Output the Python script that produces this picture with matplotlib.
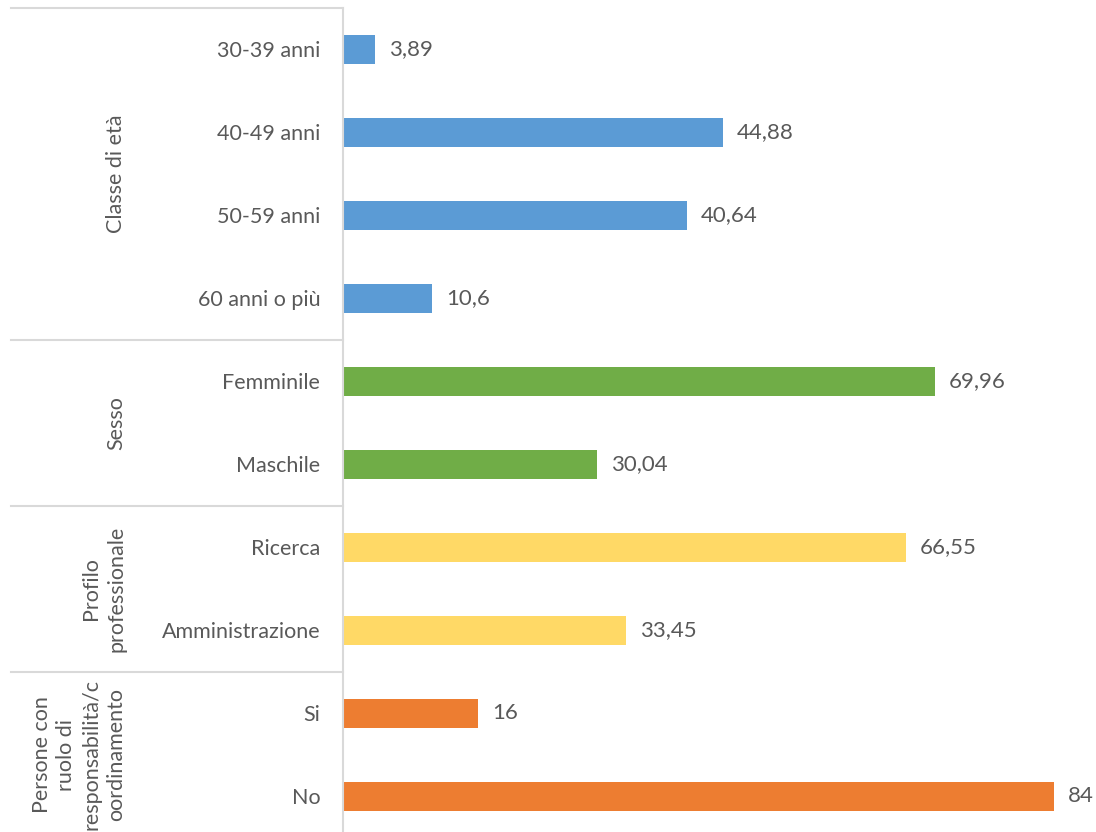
import matplotlib.pyplot as plt
import matplotlib.transforms as mtransforms

plt.rcParams['font.family'] = ['Lato', 'DejaVu Sans']

categories = ['30-39 anni', '40-49 anni', '50-59 anni', '60 anni o più',
              'Femminile', 'Maschile', 'Ricerca', 'Amministrazione', 'Si', 'No']
values = [3.89, 44.88, 40.64, 10.6, 69.96, 30.04, 66.55, 33.45, 16, 84]
labels = ['3,89', '44,88', '40,64', '10,6', '69,96', '30,04', '66,55', '33,45', '16', '84']
groups = ['Classe di età', 'Sesso', 'Profilo\nprofessionale',
          'Persone con\nruolo di\nresponsabilità/c\noordinamento']
group_sizes = [4, 2, 2, 2]
group_colors = ['#5B9BD5', '#70AD47', '#FFD966', '#ED7D31']

text_col = '#595959'
line_col = '#D9D9D9'

fig = plt.figure(figsize=(10.96, 8.32), dpi=100)
ax = fig.add_axes([342.5 / 1096, 1 - 837.5 / 832, 753.5 / 1096, 829.5 / 832])

colors = []
for c, n in zip(group_colors, group_sizes):
    colors += [c] * n

ypos = list(range(len(categories)))
ax.barh(ypos, values, height=0.35, color=colors)
ax.set_ylim(len(categories) - 0.5, -0.5)
ax.set_xlim(0, 753.5 / 8.47)

for y, v, lab in zip(ypos, values, labels):
    ax.annotate(lab, (v, y), xytext=(10, 0), textcoords='offset points',
                va='center', ha='left', fontsize=16, color=text_col)

ax.set_yticks(ypos)
ax.set_yticklabels(categories, fontsize=15.5, color=text_col)
ax.tick_params(axis='y', length=0, pad=16)
ax.set_xticks([])
for s in ['top', 'right', 'bottom']:
    ax.spines[s].set_visible(False)
ax.spines['left'].set_color(line_col)
ax.spines['left'].set_linewidth(1.5)

# group separators and labels
trans = mtransforms.blended_transform_factory(ax.transAxes, ax.transData)
x0 = (11 - 342.5) / 753.5
xlab = (126 - 342.5) / 753.5
start = -0.5
for g, n in zip(groups, group_sizes):
    ax.plot([x0, 0], [start, start], transform=trans, color=line_col,
            lw=1.5, clip_on=False)
    ax.text(xlab, start + n / 2, g, transform=trans, rotation=90,
            ha='right', va='center', multialignment='center',
            fontsize=15.5, color=text_col, linespacing=1.3)
    start += n

fig.savefig('out.png', dpi=100)
